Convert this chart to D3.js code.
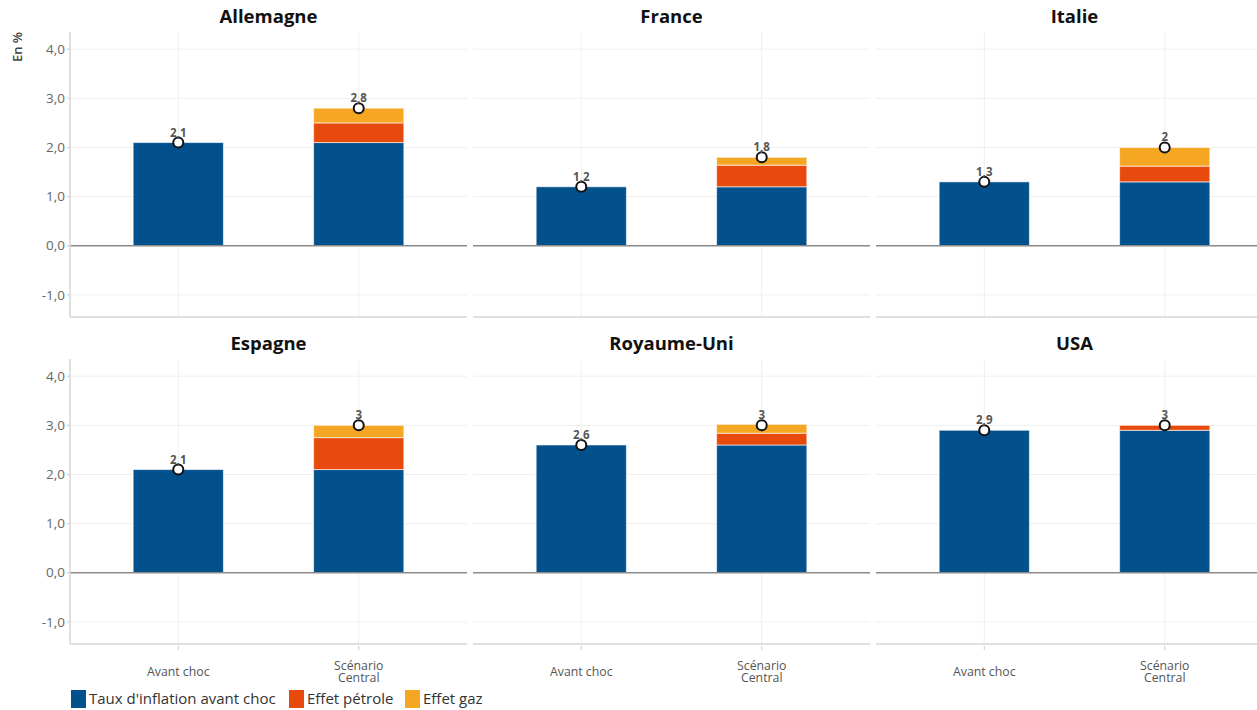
<!DOCTYPE html>
<html><head><meta charset="utf-8">
<script src="https://cdn.jsdelivr.net/npm/d3@7"></script>
<style>
body{margin:0;background:#fff;}
svg{display:block;font-family:"Open Sans",sans-serif;}
</style></head>
<body><svg id="c" width="1257" height="710"></svg>
<script>
const countries = ["Allemagne","France","Italie","Espagne","Royaume-Uni","USA"];
const scenarios = ["Avant choc","Scénario Central"];
const scenarioLines = [["Avant choc"],["Scénario","Central"]];
const seriesNames = ["Taux d'inflation avant choc","Effet pétrole","Effet gaz"];
const colors = ["#02508c","#e84a0e","#f5a623"];
// base inflation per country (both scenarios)
const baseRate = [2.1,1.2,1.3,2.1,2.6,2.9];
// oil effect (Scénario Central only)
const oilEffect = [0.4,0.44,0.32,0.65,0.24,0.1];
// gas effect (Scénario Central only)
const gasEffect = [0.3,0.16,0.38,0.25,0.18,0.0];
// totals shown as points
const totalAvant = [2.1,1.2,1.3,2.1,2.6,2.9];
const totalCentral = [2.8,1.8,2.0,3.0,3.0,3.0];
const yTicks = [-1,0,1,2,3,4];

const svg = d3.select("#c");
const panelW = 397, gapX = 6, left0 = 70;
const panelTops = [32, 359], panelH = 285;
const fmt = v => {const s=(Math.round(v*10)/10).toString(); return s.replace(".",",");};
const fmtTick = v => v.toFixed(1).replace(".",",");

countries.forEach((c,i)=>{
  const row = Math.floor(i/3), col = i%3;
  const x0 = left0 + col*(panelW+gapX);
  const y0 = panelTops[row];
  const g = svg.append("g").attr("transform",`translate(${x0},${y0})`);
  const y = d3.scaleLinear().domain([-1.45,4.35]).range([panelH,0]);
  const x = d3.scaleBand().domain(scenarios).range([0,panelW]).paddingInner(0).paddingOuter(0.1);
  const bw = x.bandwidth()*0.5;
  const cxOf = d => x(d)+x.bandwidth()/2;

  // grid
  g.selectAll(".hg").data(yTicks.filter(t=>t!==0)).join("line")
    .attr("x1",0).attr("x2",panelW).attr("y1",d=>y(d)).attr("y2",d=>y(d))
    .attr("stroke","#efefef").attr("stroke-width",1);
  g.selectAll(".vg").data(scenarios).join("line")
    .attr("x1",cxOf).attr("x2",cxOf)
    .attr("y1",0).attr("y2",panelH).attr("stroke","#efefef");

  // bottom axis line
  g.append("line").attr("x1",0).attr("x2",panelW).attr("y1",panelH).attr("y2",panelH)
    .attr("stroke","#d6d6d6").attr("stroke-width",1.5);

  // stacked bars
  const segs = [];
  segs.push({s:scenarios[0],k:0,y0:0,y1:baseRate[i]});
  segs.push({s:scenarios[1],k:0,y0:0,y1:baseRate[i]});
  segs.push({s:scenarios[1],k:1,y0:baseRate[i],y1:baseRate[i]+oilEffect[i]});
  segs.push({s:scenarios[1],k:2,y0:baseRate[i]+oilEffect[i],y1:baseRate[i]+oilEffect[i]+gasEffect[i]});
  g.selectAll(".bar").data(segs.filter(d=>d.y1>d.y0)).join("rect")
    .attr("x",d=>cxOf(d.s)-bw/2).attr("width",bw)
    .attr("y",d=>y(d.y1)).attr("height",d=>y(d.y0)-y(d.y1))
    .attr("fill",d=>colors[d.k]).attr("stroke","#ffffff").attr("stroke-opacity",0.6).attr("stroke-width",1);

  // zero line
  g.append("line").attr("x1",0).attr("x2",panelW).attr("y1",y(0)).attr("y2",y(0))
    .attr("stroke","#8a8a8a").attr("stroke-width",1.5);

  // points
  const pts = [{s:scenarios[0],v:totalAvant[i]},{s:scenarios[1],v:totalCentral[i]}];
  g.selectAll(".pt").data(pts).join("circle")
    .attr("cx",d=>cxOf(d.s)).attr("cy",d=>y(d.v)).attr("r",5)
    .attr("fill","#fff").attr("stroke","#111").attr("stroke-width",2);
  g.selectAll(".pl").data(pts).join("text")
    .attr("x",d=>cxOf(d.s)).attr("y",d=>y(d.v)-6)
    .attr("text-anchor","middle").attr("font-size",11.5).attr("font-weight",700).attr("fill","#555")
    .text(d=>fmt(d.v));

  // title
  g.append("text").attr("x",panelW/2).attr("y",-9).attr("text-anchor","middle")
    .attr("font-size",18.5).attr("font-weight",700).attr("fill","#111").text(c);

  if(col===0){
    g.append("line").attr("x1",0).attr("x2",0).attr("y1",0).attr("y2",panelH)
      .attr("stroke","#d6d6d6").attr("stroke-width",1.5);
    g.selectAll(".yt").data(yTicks).join("text")
      .attr("x",-5).attr("y",d=>y(d)).attr("dy","0.35em").attr("text-anchor","end")
      .attr("font-size",13.5).attr("fill","#666").text(fmtTick);
    g.selectAll(".ytm").data(yTicks).join("line")
      .attr("x1",-3).attr("x2",0).attr("y1",d=>y(d)).attr("y2",d=>y(d)).attr("stroke","#ccc");
  }
  if(row===1){
    g.selectAll(".xtm").data(scenarios).join("line")
      .attr("x1",cxOf).attr("x2",cxOf)
      .attr("y1",panelH+2).attr("y2",panelH+6).attr("stroke","#ccc");
    scenarios.forEach((s,si)=>{
      const lines = scenarioLines[si];
      const cx = cxOf(s);
      lines.forEach((ln,li)=>{
        const yy = lines.length===1 ? panelH+28 : panelH+22+li*11.5;
        g.append("text").attr("x",cx).attr("y",yy).attr("dy","0.35em")
          .attr("text-anchor","middle").attr("font-size",12.3).attr("fill","#555").text(ln);
      });
    });
  }
});

// y label
svg.append("text").attr("transform","translate(22,47) rotate(-90)").attr("text-anchor","middle")
  .attr("font-size",13).attr("font-weight",600).attr("fill","#444").text("En %");

// legend
const legX = [71,289,405];
const leg = svg.append("g");
seriesNames.forEach((n,k)=>{
  leg.append("rect").attr("x",legX[k]).attr("y",690).attr("width",15).attr("height",18).attr("fill",colors[k]);
  leg.append("text").attr("x",legX[k]+18).attr("y",699).attr("dy","0.35em")
    .attr("font-size",15).attr("fill","#333").text(n);
});
</script></body></html>
